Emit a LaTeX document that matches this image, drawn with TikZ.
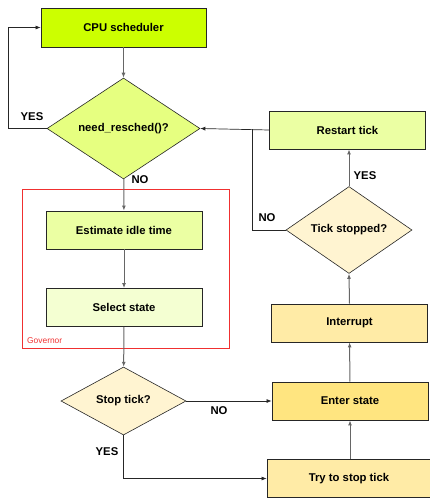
\documentclass[tikz,border=0pt]{standalone}
\usepackage{fontspec}
\setmainfont{Liberation Sans}
\usetikzlibrary{shapes.geometric,arrows.meta}
\definecolor{cpuc}{HTML}{CCFF00}
\definecolor{nrc}{HTML}{E6FF80}
\definecolor{estc}{HTML}{EBFFA3}
\definecolor{selc}{HTML}{F4FFD2}
\definecolor{creamc}{HTML}{FFF4D1}
\definecolor{entc}{HTML}{FFE580}
\definecolor{intc}{HTML}{FFEBA6}
\definecolor{govc}{HTML}{F03030}
\begin{document}
\begin{tikzpicture}[x=1pt,y=-1pt,
  lbl/.style={font=\bfseries\fontsize{11.3}{13}\selectfont},
  box/.style={draw=black!85, line width=0.8pt, minimum width=156pt, minimum height=38pt, inner sep=0pt, lbl},
  dec/.style={diamond, draw=black!85, line width=0.6pt, inner sep=0pt, lbl},
  gl/.style={draw=black!60, line width=1pt, -{Latex[length=5pt,width=4pt]}},
  bl/.style={draw=black!85, line width=0.7pt, -{Latex[length=5pt,width=4pt]}},
  bn/.style={draw=black!85, line width=0.7pt}]
\useasboundingbox (0,0) rectangle (429,498);
% governor frame
\draw[govc, line width=0.7pt] (22,189) rectangle (229,348);
\node[anchor=west, text=govc, font=\fontsize{8.4}{9}\selectfont, inner sep=0pt] (gov) at (27,341) {Governor};
% nodes
\node[box, fill=cpuc, minimum width=165pt, minimum height=39pt] (cpu) at (123.5,27.5) {CPU scheduler};
\node[dec, fill=nrc, minimum width=153pt, minimum height=83pt] (nr) at (123.5,128.5) {need\_resched()?};
\node[box, fill=estc] (est) at (124,230) {Estimate idle time};
\node[box, fill=selc] (sel) at (124,307.5) {Select state};
\node[dec, fill=creamc, minimum width=125pt, minimum height=68pt] (st) at (123.5,401) {Stop tick?};
\node[box, fill=entc] (ent) at (350,401) {Enter state};
\node[box, fill=intc, minimum width=164pt] (try) at (349,478.5) {Try to stop tick};
\node[box, fill=intc] (int) at (349.5,323) {Interrupt};
\node[dec, fill=creamc, minimum width=126pt, minimum height=66pt] (ts) at (349,230) {Tick stopped?};
\node[box, fill=estc] (rt) at (347.5,130) {Restart tick};
% helper coordinates
\coordinate (loop) at (8,27.5);
\coordinate (jn) at (252,128.5);
% connectors
\draw[gl] (cpu) -- (nr);
\draw[bl] (nr.west) -| (loop) -- (cpu.west);
\draw[gl] (nr) -- (est);
\draw[gl] (est) -- (sel);
\draw[gl] (sel) -- (st);
\draw[bl] (st.east) -- (ent.west);
\draw[bl] (st.south) |- (try.west);
\draw[gl] (try.north -| ent.south) -- (ent.south);
\draw[gl] (ent) -- (int);
\draw[gl] (int.north) -- (ts.south);
\draw[gl] (ts.north) -- (rt.south -| ts.north);
\draw[bn] (ts.west) -| (jn);
\draw[bl] (rt.west) -- (nr.east);
% labels
\node[lbl] (l1) at (32,117) {YES};
\node[lbl] (l2) at (140,180) {NO};
\node[lbl] (l3) at (219,411) {NO};
\node[lbl] (l4) at (107,452) {YES};
\node[lbl] (l5) at (365,176) {YES};
\node[lbl] (l6) at (267,218) {NO};
\end{tikzpicture}
\end{document}
